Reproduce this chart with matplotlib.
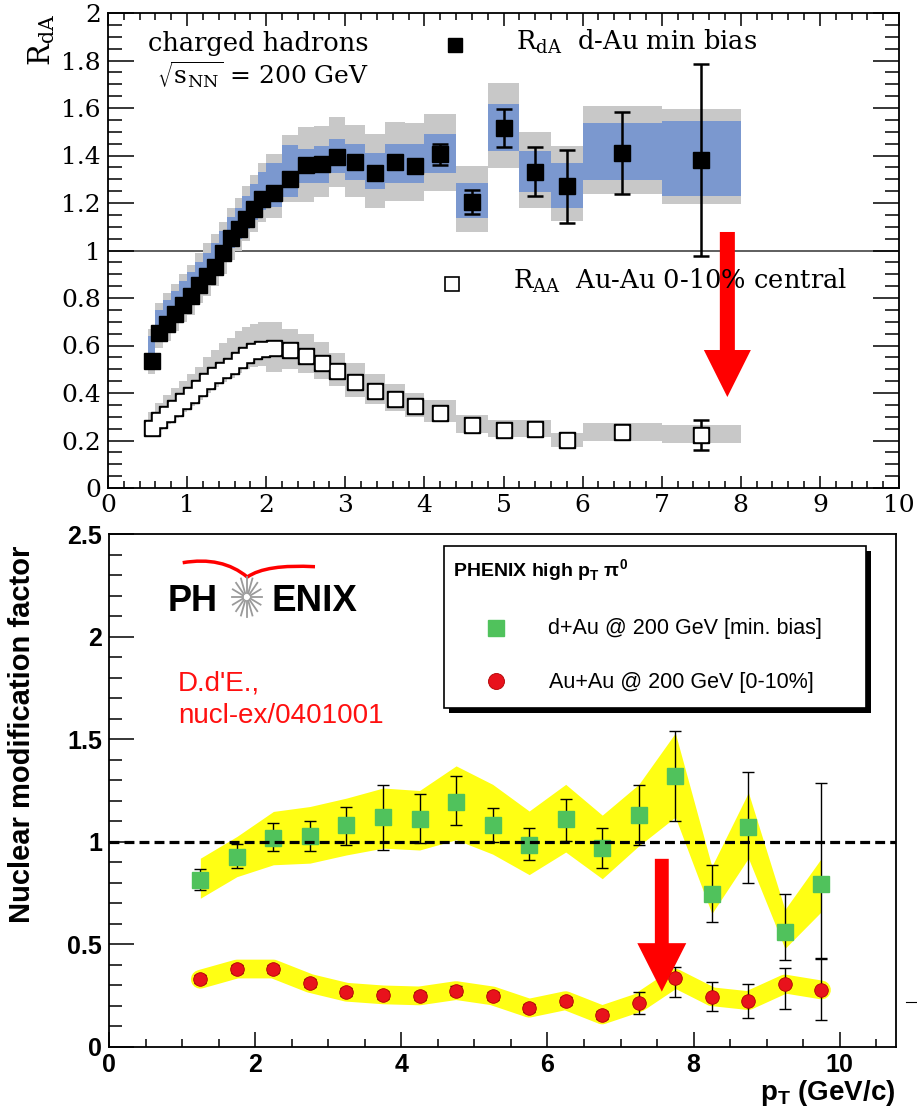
import numpy as np
import matplotlib
matplotlib.use("Agg")
from matplotlib import pyplot as plt
from matplotlib.patches import Rectangle, FancyArrow, PathPatch
from matplotlib.path import Path
from matplotlib.lines import Line2D

plt.rcParams['mathtext.fontset'] = 'custom'
plt.rcParams['mathtext.rm'] = 'Liberation Sans'
plt.rcParams['mathtext.bf'] = 'Liberation Sans:bold'

W, H = 917, 1107

# ---- charged hadrons, R_dA and R_AA (upper pad) ----
pt_edges = [0.5, 0.6, 0.7, 0.8, 0.9, 1.0, 1.1, 1.2, 1.3, 1.4, 1.5, 1.6, 1.7, 1.8, 1.9, 2.0,
            2.2, 2.4, 2.6, 2.8, 3.0, 3.25, 3.5, 3.75, 4.0, 4.4, 4.8, 5.2, 5.6, 6.0, 7.0, 8.0]
pt = [0.55, 0.65, 0.75, 0.85, 0.95, 1.05, 1.15, 1.25, 1.35, 1.45, 1.55, 1.65, 1.75, 1.85, 1.95,
      2.1, 2.3, 2.5, 2.7, 2.9, 3.125, 3.375, 3.625, 3.875, 4.2, 4.6, 5.0, 5.4, 5.8, 6.5, 7.5]

r_da = [0.536, 0.651, 0.690, 0.733, 0.770, 0.808, 0.855, 0.893, 0.932, 0.988, 1.051, 1.089, 1.131,
        1.173, 1.216, 1.243, 1.300, 1.360, 1.364, 1.395, 1.371, 1.328, 1.371, 1.357, 1.405, 1.205,
        1.514, 1.332, 1.270, 1.410, 1.380]
r_da_stat = [0.010, 0.010, 0.010, 0.010, 0.010, 0.010, 0.010, 0.010, 0.010, 0.010, 0.010, 0.010,
             0.010, 0.010, 0.012, 0.012, 0.014, 0.015, 0.016, 0.018, 0.020, 0.022, 0.028, 0.026,
             0.044, 0.050, 0.080, 0.103, 0.153, 0.172, 0.404]
r_da_blue_lo = [0.51, 0.62, 0.66, 0.70, 0.74, 0.78, 0.82, 0.86, 0.90, 0.95, 1.01, 1.05, 1.09, 1.13,
                1.17, 1.184, 1.227, 1.283, 1.283, 1.325, 1.297, 1.258, 1.285, 1.285, 1.325, 1.135,
                1.42, 1.245, 1.18, 1.297, 1.23]
r_da_blue_hi = [0.64, 0.75, 0.79, 0.83, 0.87, 0.91, 0.95, 0.99, 1.03, 1.08, 1.14, 1.18, 1.23, 1.28,
                1.33, 1.367, 1.444, 1.426, 1.441, 1.47, 1.447, 1.41, 1.45, 1.45, 1.49, 1.285,
                1.615, 1.42, 1.37, 1.538, 1.547]
r_da_gray_lo = [0.48, 0.59, 0.62, 0.66, 0.70, 0.73, 0.78, 0.81, 0.85, 0.90, 0.96, 1.00, 1.04, 1.08,
                1.12, 1.137, 1.206, 1.206, 1.227, 1.269, 1.227, 1.18, 1.21, 1.21, 1.25, 1.08,
                1.346, 1.18, 1.125, 1.24, 1.195]
r_da_gray_hi = [0.67, 0.78, 0.82, 0.86, 0.90, 0.94, 0.99, 1.03, 1.07, 1.12, 1.18, 1.22, 1.27, 1.32,
                1.37, 1.406, 1.486, 1.521, 1.526, 1.56, 1.528, 1.49, 1.539, 1.535, 1.575, 1.356,
                1.707, 1.5, 1.44, 1.608, 1.597]

r_aa = [0.254, 0.285, 0.310, 0.338, 0.365, 0.390, 0.420, 0.450, 0.475, 0.495, 0.515, 0.540, 0.560,
        0.575, 0.585, 0.590, 0.580, 0.556, 0.528, 0.494, 0.448, 0.410, 0.373, 0.345, 0.317, 0.265,
        0.244, 0.247, 0.202, 0.234, 0.223]
r_aa_stat = [0.005, 0.005, 0.005, 0.005, 0.005, 0.005, 0.005, 0.005, 0.005, 0.005, 0.005, 0.005,
             0.005, 0.005, 0.005, 0.005, 0.005, 0.005, 0.005, 0.005, 0.005, 0.005, 0.005, 0.005,
             0.006, 0.007, 0.008, 0.009, 0.010, 0.015, 0.063]
r_aa_sys_lo = [0.22, 0.245, 0.27, 0.295, 0.32, 0.345, 0.37, 0.40, 0.425, 0.445, 0.465, 0.485, 0.50,
               0.51, 0.515, 0.49, 0.50, 0.485, 0.46, 0.43, 0.385, 0.355, 0.325, 0.30, 0.28, 0.23,
               0.214, 0.216, 0.174, 0.198, 0.19]
r_aa_sys_hi = [0.32, 0.36, 0.39, 0.42, 0.45, 0.48, 0.51, 0.55, 0.58, 0.61, 0.63, 0.66, 0.68, 0.69,
               0.70, 0.70, 0.67, 0.65, 0.615, 0.57, 0.525, 0.48, 0.44, 0.40, 0.37, 0.307, 0.286,
               0.286, 0.233, 0.275, 0.265]

top_xticks = [0, 1, 2, 3, 4, 5, 6, 7, 8, 9, 10]
top_yticks = [0, 0.2, 0.4, 0.6, 0.8, 1, 1.2, 1.4, 1.6, 1.8, 2]

# ---- pi0 nuclear modification factor (lower pad) ----
pi0_pt = [1.25, 1.75, 2.25, 2.75, 3.25, 3.75, 4.25, 4.75, 5.25, 5.75, 6.25, 6.75, 7.25, 7.75,
          8.25, 8.75, 9.25, 9.75]
dau = [0.815, 0.925, 1.018, 1.029, 1.083, 1.119, 1.110, 1.192, 1.083, 0.985, 1.110, 0.969, 1.132,
       1.319, 0.746, 1.070, 0.5625, 0.795]
dau_err_lo = [0.766, 0.87, 0.953, 0.953, 0.985, 0.961, 0.994, 1.083, 1.0, 0.912, 1.006, 0.872,
              0.985, 1.10, 0.608, 0.80, 0.424, 0.43]
dau_err_hi = [0.867, 0.99, 1.09, 1.10, 1.172, 1.278, 1.233, 1.32, 1.164, 1.067, 1.208, 1.067,
              1.278, 1.538, 0.888, 1.339, 0.746, 1.286]
dau_band_lo = [0.725, 0.83, 0.888, 0.896, 0.936, 0.969, 0.96, 1.01, 0.94, 0.84, 0.95, 0.82, 0.98,
               1.12, 0.65, 0.92, 0.48, 0.66]
dau_band_hi = [0.92, 1.026, 1.148, 1.172, 1.213, 1.262, 1.25, 1.37, 1.28, 1.15, 1.28, 1.13, 1.28,
               1.53, 0.88, 1.24, 0.67, 0.92]
auau = [0.33, 0.38, 0.38, 0.31, 0.267, 0.254, 0.249, 0.275, 0.249, 0.189, 0.226, 0.156, 0.216,
        0.335, 0.245, 0.226, 0.307, 0.278]
auau_err_dn = [0.02, 0.02, 0.02, 0.02, 0.02, 0.02, 0.02, 0.02, 0.02, 0.02, 0.02, 0.02, 0.055,
               0.09, 0.069, 0.083, 0.122, 0.146]
auau_err_up = [0.02, 0.02, 0.02, 0.02, 0.02, 0.02, 0.02, 0.02, 0.02, 0.02, 0.02, 0.02, 0.054,
               0.055, 0.074, 0.081, 0.077, 0.155]

bot_xticks = [0, 2, 4, 6, 8, 10]
bot_yticks = [0, 0.5, 1, 1.5, 2, 2.5]

BLUE = '#7b98cf'
GRAY = '#c8c8c8'
YELLOW = '#ffff14'
GREEN = '#50c25c'
RED = '#e8121c'
SERIF = 'DejaVu Serif'
SANS = 'Liberation Sans'


def fxy(x, y):
    # pixel position (from top-left) -> figure fraction
    return x / W, 1 - y / H


fig = plt.figure(figsize=(W / 100, H / 100), dpi=100)

# ================= upper pad =================
ax1 = fig.add_axes([108 / W, 1 - 488 / H, (899 - 108) / W, (488 - 13) / H])
ax1.set_xlim(0, 10)
ax1.set_ylim(0, 2)

edges = np.array(pt_edges)
left = edges[:-1]
widths = np.diff(edges)

ax1.axhline(1, color='#333333', lw=1.1, zorder=0.5)
ax1.bar(left, np.subtract(r_da_gray_hi, r_da_gray_lo), width=widths, bottom=r_da_gray_lo,
        align='edge', color=GRAY, lw=0, zorder=1)
ax1.bar(left, np.subtract(r_aa_sys_hi, r_aa_sys_lo), width=widths, bottom=r_aa_sys_lo,
        align='edge', color=GRAY, lw=0, zorder=1)
ax1.bar(left, np.subtract(r_da_blue_hi, r_da_blue_lo), width=widths, bottom=r_da_blue_lo,
        align='edge', color=BLUE, lw=0, zorder=1.5)

ax1.errorbar(pt, r_aa, yerr=r_aa_stat, fmt='none', ecolor='black', elinewidth=1.8,
             capsize=5.5, capthick=1.8, zorder=3)
# outline pass then white fill pass so overlapping open squares merge into one outline
ax1.plot(pt, r_aa, 's', ms=11, color='black', zorder=3.1)
ax1.plot(pt, r_aa, 's', ms=9, color='white', zorder=3.2)

ax1.errorbar(pt, r_da, yerr=r_da_stat, fmt='s', ms=11, color='black', ecolor='black',
             elinewidth=1.8, capsize=5.5, capthick=1.8, zorder=3.3)

ax1.set_xticks(top_xticks, labels=[f'{v:g}' for v in top_xticks], fontsize=18, family=SERIF)
ax1.set_yticks(top_yticks, labels=[f'{v:g}' for v in top_yticks], fontsize=18, family=SERIF)
ax1.set_xticks(np.arange(0, 10.01, 0.2), minor=True)
ax1.set_yticks(np.arange(0, 2.001, 0.05), minor=True)
ax1.tick_params(which='both', direction='in', top=True, right=True, width=1.1)
ax1.tick_params(axis='y', which='major', length=19, pad=5)
ax1.tick_params(axis='y', which='minor', length=10)
ax1.tick_params(axis='x', which='major', length=9, pad=4)
ax1.tick_params(axis='x', which='minor', length=5)
for s in ax1.spines.values():
    s.set_linewidth(1.3)

ax1.add_patch(FancyArrow(7.83, 1.078, 0, -0.695, width=0.19, head_width=0.594,
                         head_length=0.198, length_includes_head=True, color='#ff0000',
                         lw=0, zorder=10))

fig.text(*fxy(42, 14), r'R$_{\mathrm{dA}}$', rotation=90, ha='center', va='top',
         fontsize=21, family=SERIF, math_fontfamily='dejavuserif')
fig.text(*fxy(148, 51), 'charged hadrons', fontsize=18.5, family=SERIF, va='baseline')
fig.text(*fxy(157, 84), r'$\sqrt{\mathrm{s_{NN}}}$ = 200 GeV', fontsize=18, family=SERIF,
         va='baseline', math_fontfamily='dejavuserif')

fig.add_artist(Line2D([fxy(455, 45)[0]], [fxy(455, 45)[1]], marker='s', ms=10.5,
                      color='black', lw=0))
fig.text(*fxy(516, 50), r'R$_{\mathrm{dA}}$  d-Au min bias', fontsize=18.5, family=SERIF,
         va='baseline', math_fontfamily='dejavuserif')
fig.add_artist(Line2D([fxy(452, 284)[0]], [fxy(452, 284)[1]], marker='s', ms=10.5,
                      mfc='white', mec='black', mew=1.2, lw=0))
fig.text(*fxy(513, 289), r'R$_{\mathrm{AA}}$  Au-Au 0-10% central', fontsize=18.5,
         family=SERIF, va='baseline', math_fontfamily='dejavuserif', zorder=0.5)

# ================= lower pad =================
ax2 = fig.add_axes([109 / W, 1 - 1047 / H, (896 - 109) / W, (1047 - 534) / H])
ax2.set_xlim(0, 10.77)
ax2.set_ylim(0, 2.5)

ax2.fill_between(pi0_pt, dau_band_lo, dau_band_hi, color=YELLOW, lw=0, zorder=1)
ax2.plot(pi0_pt, auau, color=YELLOW, lw=13.5, solid_capstyle='round',
         solid_joinstyle='round', zorder=1)

ax2.errorbar(pi0_pt, dau, yerr=[np.subtract(dau, dau_err_lo), np.subtract(dau_err_hi, dau)],
             fmt='none', ecolor='black', elinewidth=1.0, capsize=4.5, capthick=1.0, zorder=2)
ax2.errorbar(pi0_pt, auau, yerr=[auau_err_dn, auau_err_up], fmt='none', ecolor='black',
             elinewidth=1.0, capsize=4.5, capthick=1.0, zorder=2)
ax2.plot(pi0_pt, dau, 's', ms=11.3, color=GREEN, zorder=3)
ax2.plot(pi0_pt, auau, 'o', ms=9.8, mfc=RED, mec='#b00000', mew=0.6, zorder=3)
ax2.axhline(1, color='black', lw=2.3, ls=(0, (3.1, 1.6)), zorder=4)

ax2.set_xticks(bot_xticks, labels=[f'{v:g}' for v in bot_xticks], fontsize=18,
               fontweight='bold', family=SANS)
ax2.set_yticks(bot_yticks, labels=[f'{v:g}' for v in bot_yticks], fontsize=18,
               fontweight='bold', family=SANS)
ax2.set_xticks(np.arange(0, 10.77, 0.5), minor=True)
ax2.set_yticks(np.arange(0, 2.501, 0.1), minor=True)
ax2.tick_params(which='both', direction='in', width=1.1)
ax2.tick_params(axis='y', which='major', length=18, pad=5)
ax2.tick_params(axis='y', which='minor', length=9.4)
ax2.tick_params(axis='x', which='major', length=10.8, pad=4)
ax2.tick_params(axis='x', which='minor', length=5.8)
for s in ax2.spines.values():
    s.set_linewidth(1.3)

ax2.add_patch(FancyArrow(7.565, 0.917, 0, -0.647, width=0.19, head_width=0.67,
                         head_length=0.236, length_includes_head=True, color='#ff0000',
                         lw=0, zorder=10))

fig.text(*fxy(22, 734), 'Nuclear modification factor', rotation=90, ha='center', va='center',
         fontsize=21, fontweight='bold', family=SANS)
fig.text(*fxy(895, 1100), r'p$_{\mathbf{T}}$ (GeV/c)', ha='right', va='baseline', fontsize=20,
         fontweight='bold', family=SANS)

# PHENIX logo
fig.text(*fxy(168, 611), 'PH', fontsize=26, fontweight='bold', family=SANS, va='baseline')
fig.text(*fxy(271, 611), 'ENIX', fontsize=26.5, fontweight='bold', family=SANS, va='baseline')
cx, cy = 246.7, 597
for ang in np.linspace(0, 2 * np.pi, 16, endpoint=False):
    x0, y0 = cx + 4 * np.cos(ang), cy + 4 * np.sin(ang)
    x1, y1 = cx + 15 * np.cos(ang), cy + 20 * np.sin(ang)
    fig.add_artist(Line2D([x0 / W, x1 / W], [1 - y0 / H, 1 - y1 / H], color='#9a9a9a', lw=1.3))
arc = Path([fxy(182.7, 562.7), fxy(222, 556), fxy(247.3, 577),
            fxy(266, 564), fxy(315, 566.7)],
           [Path.MOVETO, Path.CURVE3, Path.CURVE3, Path.CURVE3, Path.CURVE3])
fig.add_artist(PathPatch(arc, transform=fig.transFigure, fill=False, ec='#ff0000', lw=2.5))

fig.text(*fxy(178, 691), "D.d'E.,", fontsize=20, color='#ff1010', family=SANS, va='baseline')
fig.text(*fxy(178, 723), 'nucl-ex/0401001', fontsize=20, color='#ff1010', family=SANS,
         va='baseline')

# legend box with drop shadow
fig.add_artist(Rectangle(fxy(449, 713), (866 - 444) / W, (708 - 546) / H,
                         transform=fig.transFigure, fc='black', ec='none', zorder=5))
fig.add_artist(Rectangle(fxy(444, 708), (866 - 444) / W, (708 - 546) / H,
                         transform=fig.transFigure, fc='white', ec='black', lw=1.2, zorder=6))
fig.text(*fxy(453, 577), r'PHENIX high p$_{\mathbf{T}}$ π$^{\mathbf{0}}$', fontsize=14,
         fontweight='bold', family=SANS, va='baseline', zorder=7)
fig.add_artist(Line2D([fxy(496, 628)[0]], [fxy(496, 628)[1]], marker='s', ms=12,
                      color=GREEN, lw=0, zorder=7))
fig.text(*fxy(548, 634), 'd+Au @ 200 GeV [min. bias]', fontsize=15.5, family=SANS,
         va='baseline', zorder=7)
fig.add_artist(Line2D([fxy(496, 681)[0]], [fxy(496, 681)[1]], marker='o', ms=11.5,
                      mfc=RED, mec='#b00000', mew=0.6, lw=0, zorder=7))
fig.text(*fxy(549, 688), 'Au+Au @ 200 GeV [0-10%]', fontsize=15.5, family=SANS,
         va='baseline', zorder=7)

fig.add_artist(Line2D([906 / W, 917 / W], [1 - 1002 / H] * 2, color='black', lw=0.8))

fig.savefig('out.png', dpi=100)
